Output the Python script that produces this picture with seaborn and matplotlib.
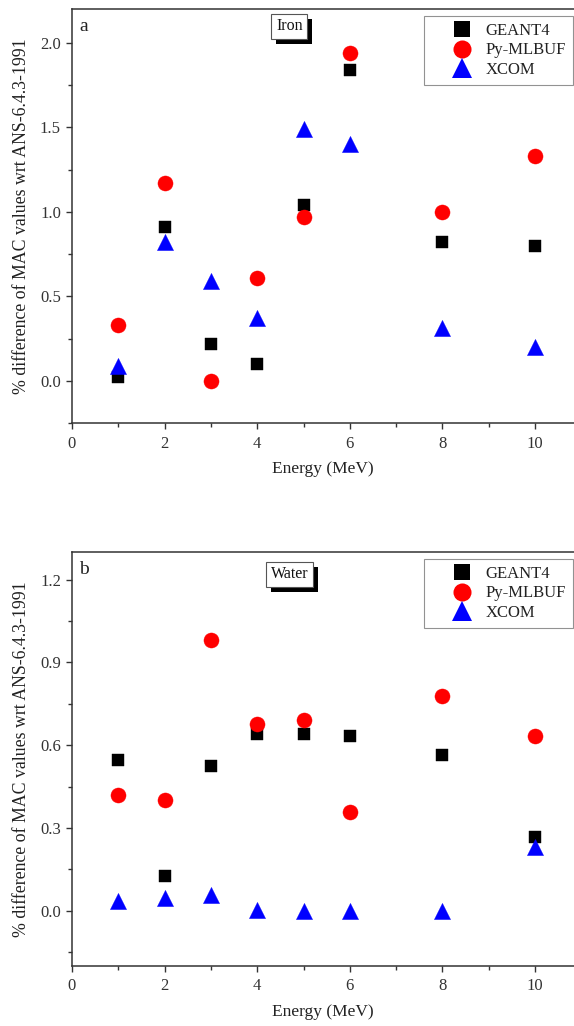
import matplotlib
matplotlib.use("Agg")
import matplotlib.pyplot as plt
import seaborn as sns
from matplotlib.lines import Line2D
from matplotlib.patches import Rectangle
from matplotlib.ticker import MultipleLocator
from matplotlib.transforms import IdentityTransform

# Photon energies (MeV)
energy = [1, 2, 3, 4, 5, 6, 8, 10]

# Iron: % difference of MAC values wrt ANS-6.4.3-1991
iron_geant4 = [0.02, 0.91, 0.22, 0.10, 1.04, 1.84, 0.82, 0.80]
iron_pymlbuf = [0.33, 1.17, 0.00, 0.61, 0.97, 1.94, 1.00, 1.33]
iron_xcom = [0.09, 0.82, 0.59, 0.37, 1.49, 1.40, 0.31, 0.20]

# Water: % difference of MAC values wrt ANS-6.4.3-1991
water_geant4 = [0.548, 0.127, 0.525, 0.642, 0.642, 0.635, 0.566, 0.268]
water_pymlbuf = [0.42, 0.403, 0.981, 0.677, 0.69, 0.358, 0.78, 0.632]
water_xcom = [0.034, 0.046, 0.058, 0.003, 0.0, 0.0, 0.0, 0.23]

series_names = ["GEANT4", "Py-MLBUF", "XCOM"]
series_colors = ["#000000", "#ff0000", "#0000ff"]
series_markers = ["s", "o", "^"]
series_sizes = [78, 118, 135]
legend_ms = [11.5, 13.0, 15.0]

sns.set_theme(style="ticks")
plt.rcParams["font.family"] = ["Liberation Serif", "DejaVu Serif"]
plt.rcParams["axes.edgecolor"] = "#333333"
plt.rcParams["axes.linewidth"] = 1.1

fig = plt.figure(figsize=(5.74, 10.26), dpi=100)
left = 72 / 574
width = 1.0 - left
ax_a = fig.add_axes([left, 0.5877, width, 0.4035])
ax_b = fig.add_axes([left, 0.0585, width, 0.4035])

panels = [
    (ax_a, "a", "Iron", [iron_geant4, iron_pymlbuf, iron_xcom],
     (-0.25, 2.2), 0.5, 0.25, 0.958),
    (ax_b, "b", "Water", [water_geant4, water_pymlbuf, water_xcom],
     (-0.2, 1.3), 0.3, 0.15, 0.946),
]

tag_boxes = []
for ax, tag, material, values, ylim, ymaj, ymin, box_y in panels:
    for vals, name, col, mk, sz in zip(values, series_names, series_colors,
                                       series_markers, series_sizes):
        sns.scatterplot(x=energy, y=vals, ax=ax, marker=mk, s=sz,
                        color=col, edgecolor=col, linewidth=0.3,
                        legend=False, zorder=3, clip_on=False)

    ax.set_xlim(0, 10.84)
    ax.set_ylim(*ylim)
    ax.xaxis.set_major_locator(MultipleLocator(2))
    ax.xaxis.set_minor_locator(MultipleLocator(1))
    ax.yaxis.set_major_locator(MultipleLocator(ymaj))
    ax.yaxis.set_minor_locator(MultipleLocator(ymin))
    ax.yaxis.set_major_formatter(plt.FormatStrFormatter("%.1f"))
    ax.tick_params(which="major", direction="out", length=4, width=1.0,
                   labelsize=12, colors="#333333", pad=4)
    ax.tick_params(which="minor", direction="out", length=3, width=1.0,
                   colors="#333333")
    ax.tick_params(axis="x", which="major", pad=5)
    ax.spines["right"].set_visible(False)

    ax.set_xlabel("Energy (MeV)", fontsize=12.5, color="#222222", labelpad=7)
    ax.set_ylabel("% difference of MAC values wrt ANS-6.4.3-1991",
                  fontsize=12.8, color="#222222", labelpad=7)

    ax.text(0.014, 0.957, tag, transform=ax.transAxes, fontsize=14,
            ha="left", va="center", color="#222222")

    label = ax.text(0.433, box_y, material, transform=ax.transAxes,
                    fontsize=11.5, ha="center", va="center", color="#111111",
                    zorder=5,
                    bbox=dict(boxstyle="square,pad=0.3", fc="white",
                              ec="#555555", lw=0.8))
    tag_boxes.append((ax, label))

    handles = [Line2D([], [], linestyle="none", marker=mk, color=col,
                      markersize=ms, markeredgewidth=0)
               for mk, col, ms in zip(series_markers, series_colors, legend_ms)]
    leg = ax.legend(handles, series_names, loc="upper right",
                    bbox_to_anchor=(0.998, 0.983), borderaxespad=0,
                    fontsize=12, frameon=True, fancybox=False,
                    labelspacing=0.2, handletextpad=-0.42, handlelength=3.72,
                    borderpad=0.42)
    leg.get_frame().set_edgecolor("#777777")
    leg.get_frame().set_linewidth(0.8)
    for t in leg.get_texts():
        t.set_color("#222222")

# drop shadow behind each material tag
fig.canvas.draw()
for ax, label in tag_boxes:
    bb = label.get_bbox_patch().get_window_extent()
    ax.add_patch(Rectangle((bb.x0 + 5, bb.y0 - 5), bb.width, bb.height,
                           transform=IdentityTransform(), fc="black",
                           ec="none", zorder=4, clip_on=False))

fig.savefig("out.png", dpi=100)
